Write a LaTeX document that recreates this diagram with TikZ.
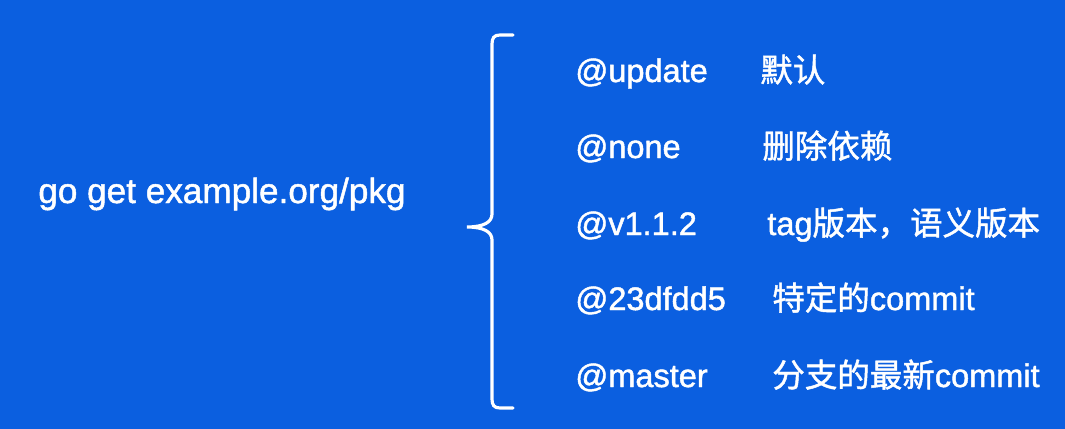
\documentclass[tikz,border=0pt]{standalone}
\usepackage{fontspec}
\setmainfont{Liberation Sans}[FakeBold=1.4]
\newfontfamily\cjk{Noto Sans CJK SC}[FakeBold=1.4]
\usepackage{xcolor}
\usepackage{tikz}
\usetikzlibrary{positioning,calc}
\definecolor{slideblue}{HTML}{0B5FE0}

\begin{document}
\begin{tikzpicture}[x=0.02cm, y=-0.02cm, every node/.style={font=\fontsize{18.5}{22}\selectfont, text=white, inner sep=0pt, anchor=base west}]
  \fill[slideblue] (0,0) rectangle (1065,429);
  \node[font=\fontsize{20}{24}\selectfont] (cmd) at (38,203) {go get example.org/pkg};
  \node (opt1) at (575,82) {@update};
  \node (opt2) at (575,158) {@none};
  \node (opt3) at (575,235) {@v1.1.2};
  \node (opt4) at (575,310) {@23dfdd5};
  \node (opt5) at (575,387) {@master};
  \node (desc1) at (760,82) {\cjk 默认};
  \node (desc2) at (762,158) {\cjk 删除依赖};
  \node (desc3) at (767,235) {tag{\cjk 版本，语义版本}};
  \node (desc4) at (772,310) {{\cjk 特定的}commit};
  \node (desc5) at (772,387) {{\cjk 分支的最新}commit};
  \coordinate (btop) at (513,35);
  \coordinate (btip) at (467,227);
  \coordinate (bbot) at (513,408);
  \draw[white, line width=1.8pt, line cap=round] (btop) -- (500,35) .. controls (494,35) and (492,38) .. (492,44) -- (492,214) .. controls (492,222) and (484,227) .. (btip) .. controls (484,227) and (492,232) .. (492,240) -- (492,399) .. controls (492,405) and (494,408) .. (500,408) -- (bbot);
\end{tikzpicture}
\end{document}
